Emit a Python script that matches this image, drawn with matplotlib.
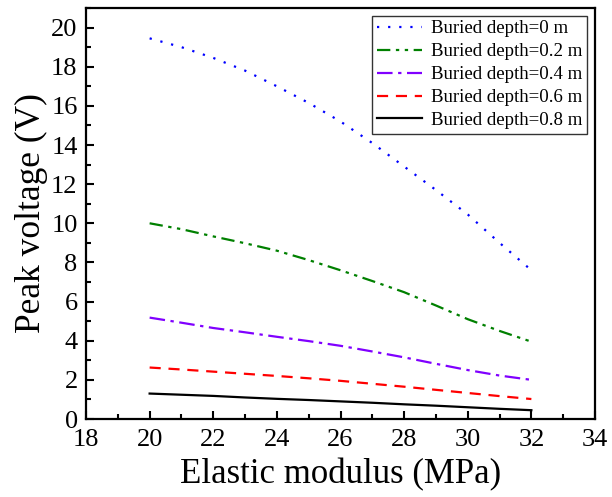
import matplotlib
matplotlib.use("Agg")
import matplotlib.pyplot as plt
from matplotlib.ticker import MultipleLocator

x = [20, 21, 22, 23, 24, 25, 26, 27, 28, 29, 30, 31, 32]
d0 = [19.45, 19.0, 18.45, 17.8, 17.0, 16.15, 15.2, 14.1, 12.9, 11.7, 10.45, 9.0, 7.6]
d02 = [10.0, 9.7, 9.33, 8.98, 8.6, 8.12, 7.6, 7.05, 6.48, 5.8, 5.1, 4.5, 3.95]
d04 = [5.18, 4.92, 4.65, 4.43, 4.2, 3.98, 3.74, 3.45, 3.15, 2.82, 2.5, 2.22, 2.0]
d06 = [2.63, 2.53, 2.42, 2.31, 2.2, 2.08, 1.95, 1.8, 1.65, 1.49, 1.33, 1.17, 1.02]
d08 = [1.3, 1.24, 1.18, 1.1, 1.03, 0.97, 0.9, 0.83, 0.75, 0.68, 0.6, 0.52, 0.45]
labels = ["Buried depth=0 m", "Buried depth=0.2 m", "Buried depth=0.4 m",
          "Buried depth=0.6 m", "Buried depth=0.8 m"]

plt.rcParams['font.family'] = ['Liberation Serif', 'DejaVu Serif']
fig = plt.figure(figsize=(6.12, 4.97), dpi=100)
ax = fig.add_axes([86/612, 1-419/497, (595-86)/612, (419-8)/497])

lw = 1.6
ax.plot(x, d0, color='#0000ff', linestyle=(0, (1, 4)), lw=lw, label=labels[0])
ax.plot(x, d02, color='#008000', linestyle=(0, (6, 2.5, 1.5, 2.5, 1.5, 2.5)), lw=lw, label=labels[1])
ax.plot(x, d04, color='#8000ff', linestyle=(0, (7, 2.5, 1.5, 2.5)), lw=lw, label=labels[2])
ax.plot(x, d06, color='#ff0000', linestyle=(0, (5, 3.5)), lw=lw, label=labels[3])
ax.plot(x, d08, color='#000000', linestyle='-', lw=lw, label=labels[4])

ax.set_xlim(18, 34)
ax.set_ylim(0, 21)
ax.xaxis.set_major_locator(MultipleLocator(2))
ax.xaxis.set_minor_locator(MultipleLocator(1))
ax.yaxis.set_major_locator(MultipleLocator(2))
ax.yaxis.set_minor_locator(MultipleLocator(1))
ax.tick_params(which='both', direction='in', top=False, right=False, labelsize=19)
ax.tick_params(axis='x', which='major', pad=7.5)
ax.tick_params(axis='y', which='major', pad=6)
ax.tick_params(which='major', length=6, width=1.5)
ax.tick_params(which='minor', length=3.5, width=1.5)
for s in ax.spines.values():
    s.set_linewidth(1.6)

ax.set_xlabel('Elastic modulus (MPa)', fontsize=25, labelpad=5)
ax.set_ylabel('Peak voltage (V)', fontsize=25.5, labelpad=2)

leg = ax.legend(loc='upper right', fontsize=13.6, frameon=True, fancybox=False,
                edgecolor='black', borderpad=0.25, labelspacing=0.3,
                handlelength=2.4, handletextpad=0.5, borderaxespad=0.4)
leg.get_frame().set_linewidth(1.0)

fig.savefig('out.png', dpi=100)
